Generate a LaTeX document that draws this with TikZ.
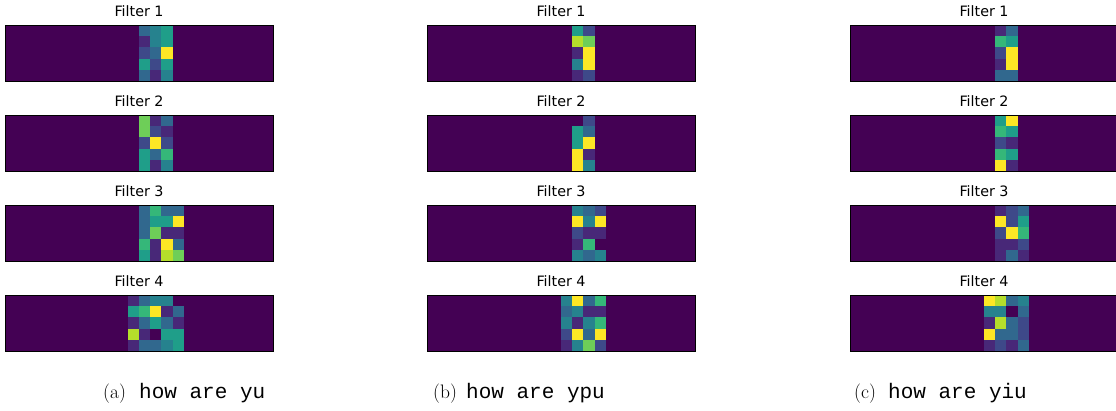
\documentclass[tikz,border=0pt]{standalone}
\usepackage{fontspec}
\setsansfont{DejaVu Sans}
\newfontfamily\captt{Liberation Mono}
% viridis in ten steps
\definecolor{v0}{HTML}{440154}
\definecolor{v1}{HTML}{482878}
\definecolor{v2}{HTML}{3E4989}
\definecolor{v3}{HTML}{31688E}
\definecolor{v4}{HTML}{26828E}
\definecolor{v5}{HTML}{1F9E89}
\definecolor{v6}{HTML}{35B779}
\definecolor{v7}{HTML}{6ECE58}
\definecolor{v8}{HTML}{B5DE2B}
\definecolor{v9}{HTML}{FDE725}
\newcommand{\cw}{11.17}
\newcommand{\ch}{11.2}
% #1 panel, #2 left edge, #3 filter number, #4 first coloured column, #5 rows
\newcommand{\filtermap}[5]{%
	\fill[v0] (#2,25+90*#3-90) rectangle ++(24*\cw,5*\ch);
	\foreach \row [count=\rr from 0] in {#5} {
		\foreach \val [count=\cc from 0] in \row {
			\fill[v\val] (#2+#4*\cw+\cc*\cw,25+90*#3-90+\rr*\ch) rectangle ++(\cw,\ch);
		}
	}
	\draw[spine] (#2,25+90*#3-90) rectangle ++(24*\cw,5*\ch);
	\node[filtertitle] (#1#3) at (#2+12*\cw,17+90*#3-90) {Filter #3};
}
\begin{document}
\begin{tikzpicture}[x=1pt,y=-1pt,
		spine/.style={black,line width=.7pt},
		filtertitle/.style={anchor=base,inner sep=0pt,font=\sffamily\fontsize{14.3}{17}\selectfont},
		capnum/.style={anchor=base west,inner sep=0pt,font=\fontsize{19.5}{22}\selectfont},
		captext/.style={anchor=base west,inner sep=0pt,font=\captt\fontsize{21}{24}\selectfont}]
	\useasboundingbox (0,0) rectangle (1116,411);
	% (a) how are yu
	\filtermap{a}{5}{1}{12}{{3,4,5},{1,4,5},{2,3,9},{5,2,5},{3,1,4}}
	\filtermap{a}{5}{2}{12}{{7,1,3},{7,2,1},{2,9,2},{5,3,6},{5,1,4}}
	\filtermap{a}{5}{3}{12}{{3,6,3,3},{3,5,5,9},{3,7,1,1},{6,1,9,3},{5,1,8,7}}
	\filtermap{a}{5}{4}{11}{{1,3,4,4,0},{5,6,9,1,3},{1,3,5,3,1},{8,1,0,5,5},{1,3,3,4,5}}
	% (b) how are ypu
	\filtermap{b}{427}{1}{13}{{5,2},{8,7},{1,9},{4,9},{1,2}}
	\filtermap{b}{427}{2}{13}{{0,2},{5,3},{5,9},{9,1},{9,4}}
	\filtermap{b}{427}{3}{13}{{4,3,2},{9,4,9},{2,1,1},{1,6,0},{4,3,4}}
	\filtermap{b}{427}{4}{12}{{4,9,3,6},{3,4,1,1},{4,1,4,6},{2,9,3,9},{1,4,7,2}}
	% (c) how are yiu
	\filtermap{c}{850}{1}{13}{{1,3},{6,5},{2,9},{1,9},{3,3}}
	\filtermap{c}{850}{2}{13}{{5,9},{6,5},{2,1},{6,5},{9,1}}
	\filtermap{c}{850}{3}{13}{{1,2,3},{9,2,5},{2,9,6},{1,1,2},{1,3,1}}
	\filtermap{c}{850}{4}{12}{{9,8,3,4},{4,4,0,3},{1,8,3,2},{9,3,3,2},{1,2,1,3}}
	% captions
	\node[capnum] (capa) at (103,399) {(a)};
	\node[captext] (txta) at (139,399) {how are yu};
	\node[capnum] (capb) at (433,399) {(b)};
	\node[captext] (txtb) at (466,399) {how are ypu};
	\node[capnum] (capc) at (854,399) {(c)};
	\node[captext] (txtc) at (888,399) {how are yiu};
\end{tikzpicture}
\end{document}
